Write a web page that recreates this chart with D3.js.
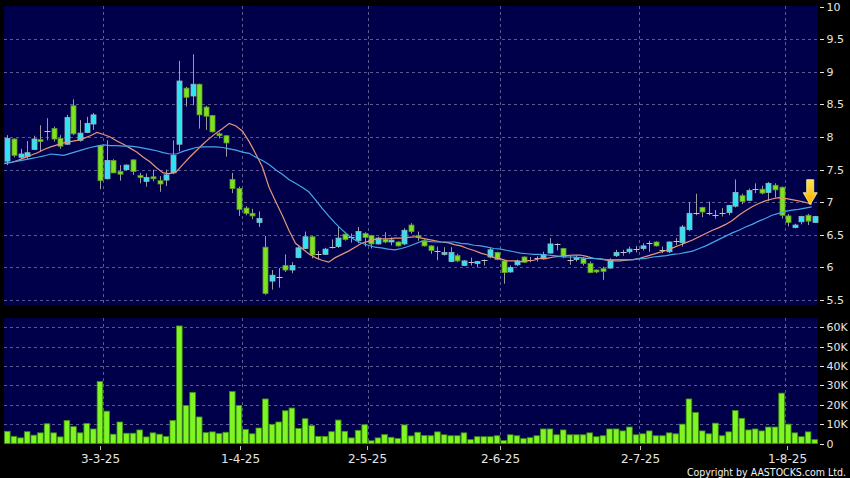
<!DOCTYPE html>
<html><head><meta charset="utf-8">
<script src="https://cdn.jsdelivr.net/npm/d3@7/dist/d3.min.js"></script>
<style>html,body{margin:0;padding:0;background:#000;}svg{display:block}</style>
</head><body>
<svg id="c" width="850" height="478"></svg>
<script>
const dates = [
"11-2-25","12-2-25","13-2-25","14-2-25","17-2-25","18-2-25","19-2-25","20-2-25","21-2-25","24-2-25","25-2-25","26-2-25","27-2-25","28-2-25",
"3-3-25","4-3-25","5-3-25","6-3-25","7-3-25","10-3-25","11-3-25","12-3-25","13-3-25","14-3-25","17-3-25","18-3-25","19-3-25","20-3-25","21-3-25","24-3-25","25-3-25","26-3-25","27-3-25","28-3-25","31-3-25",
"1-4-25","2-4-25","3-4-25","7-4-25","8-4-25","9-4-25","10-4-25","11-4-25","14-4-25","15-4-25","16-4-25","17-4-25","22-4-25","23-4-25","24-4-25","25-4-25","28-4-25","29-4-25","30-4-25",
"2-5-25","6-5-25","7-5-25","8-5-25","9-5-25","12-5-25","13-5-25","14-5-25","15-5-25","16-5-25","19-5-25","20-5-25","21-5-25","22-5-25","23-5-25","26-5-25","27-5-25","28-5-25","29-5-25","30-5-25",
"2-6-25","3-6-25","4-6-25","5-6-25","6-6-25","9-6-25","10-6-25","11-6-25","12-6-25","13-6-25","16-6-25","17-6-25","18-6-25","19-6-25","20-6-25","23-6-25","24-6-25","25-6-25","26-6-25","27-6-25","30-6-25",
"2-7-25","3-7-25","4-7-25","7-7-25","8-7-25","9-7-25","10-7-25","11-7-25","14-7-25","15-7-25","16-7-25","17-7-25","18-7-25","21-7-25","22-7-25","23-7-25","24-7-25","25-7-25","28-7-25","29-7-25","30-7-25","31-7-25",
"1-8-25","4-8-25","5-8-25","6-8-25","7-8-25","8-8-25"];

const open = [
7.63,7.97,7.69,7.70,7.81,7.96,8.10,8.13,7.98,7.89,8.48,7.95,8.07,8.20,
7.87,7.36,7.64,7.47,7.50,7.65,7.41,7.32,7.39,7.33,7.34,7.45,7.89,8.75,8.63,8.81,8.46,8.33,8.05,8.02,7.35,
7.21,6.91,6.83,6.69,6.31,5.79,5.86,6.03,5.96,6.15,6.29,6.47,6.20,6.20,6.32,6.32,6.51,6.46,6.41,
6.52,6.49,6.36,6.43,6.39,6.39,6.36,6.65,6.49,6.41,6.33,6.25,6.20,6.09,6.18,6.03,6.08,6.06,6.11,6.16,
6.23,6.10,5.93,6.04,6.16,6.12,6.15,6.13,6.22,6.36,6.29,6.12,6.12,6.14,6.06,5.96,5.98,5.99,6.18,6.23,6.24,
6.28,6.29,6.37,6.39,6.27,6.24,6.41,6.38,6.58,6.83,6.92,6.84,6.80,6.84,6.84,6.94,7.10,7.03,7.20,7.20,7.15,7.26,
7.23,6.79,6.61,6.70,6.80,6.69];
const high = [
8.03,7.98,7.82,7.94,8.02,8.18,8.29,8.16,8.03,8.34,8.58,8.26,8.31,8.37,
7.88,7.95,7.66,7.57,7.58,7.66,7.45,7.44,7.50,7.40,7.50,7.95,9.17,8.77,9.27,8.82,8.48,8.34,8.07,8.03,7.45,
7.24,6.94,6.90,6.86,6.48,5.96,5.99,6.20,6.08,6.32,6.55,6.48,6.25,6.30,6.43,6.62,6.52,6.52,6.62,
6.54,6.50,6.47,6.54,6.46,6.40,6.60,6.68,6.55,6.43,6.34,6.32,6.31,6.31,6.21,6.11,6.15,6.10,6.12,6.31,
6.24,6.11,6.03,6.12,6.17,6.16,6.17,6.24,6.45,6.37,6.30,6.19,6.18,6.16,6.09,5.97,6.01,6.14,6.27,6.27,6.32,
6.33,6.37,6.41,6.40,6.32,6.40,6.45,6.65,7.00,7.13,6.93,7.01,6.88,6.91,6.96,7.35,7.13,7.21,7.29,7.25,7.31,7.29,
7.24,6.82,6.67,6.79,6.82,6.79];
const low = [
7.57,7.69,7.66,7.66,7.80,7.78,7.95,7.93,7.82,7.88,8.03,7.93,8.06,8.11,
7.20,7.35,7.45,7.33,7.48,7.42,7.29,7.24,7.32,7.16,7.25,7.43,7.78,8.47,8.49,8.13,8.11,8.07,7.98,7.70,7.14,
6.79,6.80,6.74,6.62,5.58,5.66,5.69,5.93,5.91,6.14,6.28,6.14,6.12,6.19,6.29,6.30,6.41,6.38,6.37,
6.32,6.29,6.35,6.37,6.34,6.32,6.34,6.52,6.41,6.32,6.21,6.11,6.18,6.08,6.08,6.02,6.03,6.00,6.03,6.14,
6.11,5.75,5.92,6.02,6.07,6.08,6.09,6.12,6.21,6.26,6.14,6.04,6.09,6.03,5.91,5.91,5.81,5.98,6.16,6.18,6.21,
6.23,6.26,6.24,6.32,6.22,6.22,6.34,6.32,6.56,6.80,6.77,6.80,6.75,6.78,6.80,6.92,6.97,7.02,7.14,7.12,7.02,7.07,
6.75,6.63,6.60,6.66,6.65,6.68];
const close = [
7.98,7.72,7.74,7.76,7.97,7.93,8.10,7.97,7.86,8.30,8.05,8.06,8.21,8.34,
7.33,7.64,7.45,7.43,7.57,7.47,7.38,7.38,7.36,7.28,7.42,7.72,8.86,8.61,8.81,8.34,8.32,8.08,8.02,7.91,7.21,
6.89,6.83,6.79,6.75,5.60,5.88,5.86,5.96,6.03,6.30,6.47,6.19,6.20,6.28,6.32,6.45,6.43,6.46,6.55,
6.46,6.36,6.45,6.39,6.42,6.33,6.57,6.55,6.47,6.33,6.26,6.25,6.23,6.23,6.10,6.10,6.08,6.09,6.11,6.27,
6.12,5.92,6.00,6.10,6.08,6.12,6.15,6.20,6.36,6.36,6.16,6.12,6.15,6.06,5.92,5.93,5.94,6.11,6.23,6.23,6.28,
6.28,6.33,6.37,6.33,6.27,6.39,6.41,6.62,6.83,6.83,6.85,6.84,6.80,6.84,6.95,7.15,7.01,7.18,7.20,7.14,7.29,7.19,
6.80,6.69,6.65,6.78,6.71,6.78];
// volume in thousands of shares
const volume = [
6.3,3.7,2.9,6.1,4.3,5.5,10.2,5.5,3.4,11.9,8.7,5.5,10.4,7.5,
32,16.7,4.8,11.1,5.3,5.3,7.0,3.4,5.5,4.8,3.6,11.9,60.7,19.6,26.4,13.7,5.6,6.0,5.1,5.8,26.8,
19.6,7.3,5.0,8.0,23,9.9,11.1,16.9,18.3,7.8,12.8,9.2,3.7,3.7,6.1,12.1,6.3,2.9,6.8,
9.7,1.4,2.9,4.6,3.2,2.6,9.6,3.9,5.8,4.1,4.0,6.0,4.5,4.0,4.0,5.5,2.0,3.5,3.5,3.5,
4.0,1.5,4.5,4.0,2.5,3.0,4.0,7.5,7.5,4.5,7.0,4.5,4.5,4.5,5.5,3.5,4.0,7.5,7.5,6.5,8.5,
4.5,5.0,6.5,4.0,4.0,5.5,5.0,10,23,16,6.5,5.0,10.5,4.0,6.0,17,13,7.0,7.5,6.5,8.5,8.5,
26,10,5.5,3.5,6.0,2.0];
// moving averages
const maShort = [
7.59,7.61,7.64,7.68,7.72,7.76,7.81,7.85,7.88,7.91,7.93,7.95,7.98,8.02,
8.07,8.04,8.00,7.94,7.89,7.83,7.77,7.69,7.62,7.53,7.45,7.44,7.47,7.58,7.69,7.79,7.89,7.98,8.06,8.13,8.21,
8.17,8.09,7.93,7.74,7.54,7.23,7.01,6.80,6.57,6.37,6.29,6.21,6.15,6.11,6.08,6.15,6.20,6.25,6.31,
6.37,6.40,6.43,6.44,6.44,6.45,6.45,6.46,6.47,6.45,6.43,6.41,6.39,6.38,6.35,6.33,6.29,6.26,6.22,6.19,
6.15,6.13,6.10,6.10,6.09,6.10,6.11,6.14,6.14,6.16,6.17,6.18,6.19,6.19,6.17,6.14,6.13,6.11,6.10,6.10,6.11,
6.12,6.14,6.17,6.20,6.23,6.26,6.30,6.34,6.38,6.42,6.47,6.52,6.57,6.61,6.66,6.72,6.80,6.87,6.93,6.98,7.02,7.05,
7.07,7.06,7.04,7.02,7.00,6.97];
const maLong = [
7.60,7.61,7.63,7.65,7.67,7.69,7.71,7.74,7.73,7.72,7.75,7.78,7.81,7.84,
7.86,7.88,7.87,7.87,7.86,7.86,7.85,7.83,7.81,7.79,7.76,7.74,7.74,7.78,7.81,7.84,7.85,7.85,7.85,7.84,7.82,
7.80,7.77,7.75,7.69,7.64,7.58,7.50,7.43,7.35,7.29,7.23,7.16,7.04,6.91,6.79,6.68,6.58,6.49,6.42,
6.37,6.34,6.31,6.30,6.28,6.27,6.29,6.32,6.36,6.40,6.40,6.39,6.39,6.39,6.39,6.37,6.36,6.34,6.33,6.31,
6.29,6.28,6.26,6.24,6.22,6.21,6.20,6.20,6.19,6.18,6.17,6.16,6.16,6.15,6.14,6.14,6.13,6.12,6.12,6.12,6.12,
6.12,6.13,6.14,6.16,6.17,6.18,6.20,6.21,6.23,6.25,6.29,6.33,6.38,6.43,6.48,6.53,6.57,6.62,6.66,6.71,6.75,6.80,
6.83,6.86,6.88,6.89,6.91,6.93];

const priceTicks = [5.5,6,6.5,7,7.5,8,8.5,9,9.5,10];
const priceTickLabels = ["5.5","6","6.5","7","7.5","8","8.5","9","9.5","10"];
const volTicks = [0,10,20,30,40,50,60];
const volTickLabels = ["0","10K","20K","30K","40K","50K","60K"];
const xTickDates = ["3-3-25","1-4-25","2-5-25","2-6-25","2-7-25","1-8-25"];
const copyright = "Copyright by AASTOCKS.com Ltd.";

const svg = d3.select("#c");
const W = 850, H = 478;
const n = dates.length;
const PL = 4, PR = 818;
const P_TOP = 6, P_BOT = 305, V_TOP = 318, V_BOT = 444;

const x = d3.scaleBand().domain(dates).range([PL, PR]).paddingInner(0).paddingOuter(0);
const bw = x.bandwidth();
const cx = d => x(d) + bw / 2;
// label axis uses its own slightly wider spacing as in the original
const xLab = d3.scaleLinear().domain([0, n - 1]).range([6.5, 6.5 + 6.667 * (n - 1)]);

const yP = d3.scaleLinear().domain([5.5, 10]).range([300, 6.7]);
const yV = d3.scaleLinear().domain([0, 60]).range([443.5, 327.3]);

svg.append("rect").attr("width", W).attr("height", H).attr("fill", "#000");
const BG = "#00004a";
svg.append("rect").attr("x", PL).attr("y", P_TOP).attr("width", PR - PL).attr("height", P_BOT - P_TOP).attr("fill", BG);
svg.append("rect").attr("x", PL).attr("y", V_TOP).attr("width", PR - PL).attr("height", V_BOT - V_TOP).attr("fill", BG);

const gridCol = "#5a5a90";
const grid = svg.append("g").attr("stroke", gridCol).attr("stroke-width", 1).attr("stroke-dasharray", "3,3").attr("fill", "none");
priceTicks.filter(t => t < 10).forEach(t => {
  const yy = Math.round(yP(t)) + 0.5;
  grid.append("line").attr("x1", PL).attr("x2", PR).attr("y1", yy).attr("y2", yy);
});
volTicks.filter(t => t > 0).forEach(t => {
  const yy = Math.round(yV(t)) + 0.5;
  grid.append("line").attr("x1", PL).attr("x2", PR).attr("y1", yy).attr("y2", yy);
});
xTickDates.forEach(dl => {
  const xx = Math.round(cx(dl) + 3) + 0.5;
  grid.append("line").attr("x1", xx).attr("x2", xx).attr("y1", P_TOP).attr("y2", P_BOT);
  grid.append("line").attr("x1", xx).attr("x2", xx).attr("y1", V_TOP).attr("y2", V_BOT);
});

// candles
const UP = "#2fe3f2", DOWN = "#7de21f";
const cg = svg.append("g");
dates.forEach((d, i) => {
  const c = cx(d);
  const o = open[i], cl = close[i];
  const xc = Math.round(c) + 0.5;
  cg.append("line").attr("x1", xc).attr("x2", xc)
    .attr("y1", yP(high[i])).attr("y2", yP(low[i]))
    .attr("stroke", "#9c9c9c").attr("stroke-width", 1);
  if (o === cl) {
    cg.append("line").attr("x1", xc - 3).attr("x2", xc + 3)
      .attr("y1", Math.round(yP(o)) + 0.5).attr("y2", Math.round(yP(o)) + 0.5)
      .attr("stroke", "#c4c4c4").attr("stroke-width", 1);
  } else {
    const top = yP(Math.max(o, cl)), bot = yP(Math.min(o, cl));
    const up = cl > o;
    cg.append("rect").attr("x", xc - 2.5).attr("y", top)
      .attr("width", 5).attr("height", Math.max(1.5, bot - top))
      .attr("fill", up ? UP : DOWN)
      .attr("stroke", up ? "#8fb7c2" : "#5f9a2c").attr("stroke-width", 0.8);
  }
});

// moving averages
const maX = d => cx(d) - 3;
const lineS = d3.line().x((d, i) => maX(dates[i])).y(d => yP(d));
svg.append("path").attr("d", lineS(maShort)).attr("fill", "none").attr("stroke", "#e8957a").attr("stroke-width", 1.2);
svg.append("path").attr("d", lineS(maLong)).attr("fill", "none").attr("stroke", "#45a6e6").attr("stroke-width", 1.2);

// volume bars
const vg = svg.append("g");
dates.forEach((d, i) => {
  const c = cx(d);
  vg.append("rect").attr("x", c - bw / 2 + 0.5).attr("y", yV(volume[i]))
    .attr("width", bw - 1).attr("height", yV(0) - yV(volume[i]))
    .attr("fill", "#7ff524").attr("stroke", "#3f8f12").attr("stroke-width", 0.8);
});

// arrow marker at the latest moving average point
const defs = svg.append("defs");
const gr = defs.append("linearGradient").attr("id", "ag").attr("x1", 0).attr("y1", 0).attr("x2", 0).attr("y2", 1);
gr.append("stop").attr("offset", "0%").attr("stop-color", "#ffe24a");
gr.append("stop").attr("offset", "100%").attr("stop-color", "#ffae00");
const last = n - 1;
const ax = maX(dates[last]) - 1.5, ay = yP(maShort[last]) + 0.5;
svg.append("path")
  .attr("d", `M${ax-3.5},${ay-25} L${ax+3.5},${ay-25} L${ax+3.5},${ay-12} L${ax+7},${ay-12} L${ax},${ay} L${ax-7},${ay-12} L${ax-3.5},${ay-12} Z`)
  .attr("fill", "url(#ag)").attr("stroke", "#fff2a8").attr("stroke-width", 0.8);

// right axes
const axCol = "#e4e4e4";
const ra = svg.append("g").attr("font-family", "DejaVu Sans, sans-serif").attr("font-size", 11).attr("fill", axCol);
priceTicks.forEach((t, k) => {
  const yy = Math.round(yP(t)) + 0.5;
  ra.append("line").attr("x1", 820).attr("x2", 824).attr("y1", yy).attr("y2", yy).attr("stroke", axCol);
  ra.append("text").attr("x", 826.5).attr("y", yy).attr("dy", "0.36em").text(priceTickLabels[k]);
});
volTicks.forEach((t, k) => {
  const yy = Math.round(yV(t)) + 0.5;
  ra.append("line").attr("x1", 820).attr("x2", 824).attr("y1", yy).attr("y2", yy).attr("stroke", axCol);
  ra.append("text").attr("x", 826.5).attr("y", yy).attr("dy", "0.36em").text(volTickLabels[k]);
});

// bottom date axis
const ba = svg.append("g").attr("font-family", "DejaVu Sans, sans-serif").attr("font-size", 12).attr("fill", axCol);
xTickDates.forEach(dl => {
  const xx = Math.round(xLab(dates.indexOf(dl))) + 0.5;
  ba.append("line").attr("x1", xx).attr("x2", xx).attr("y1", 446).attr("y2", 450).attr("stroke", "#bbbbbb");
  ba.append("text").attr("x", xx).attr("y", 462.5).attr("text-anchor", "middle").text(dl);
});

svg.append("text").attr("x", 846).attr("y", 475.5).attr("text-anchor", "end")
  .attr("font-family", "DejaVu Sans Condensed, DejaVu Sans, sans-serif").attr("font-stretch", "condensed")
  .attr("font-size", 10.5).attr("fill", "#f0f0f0").text(copyright);
</script>
</body></html>
